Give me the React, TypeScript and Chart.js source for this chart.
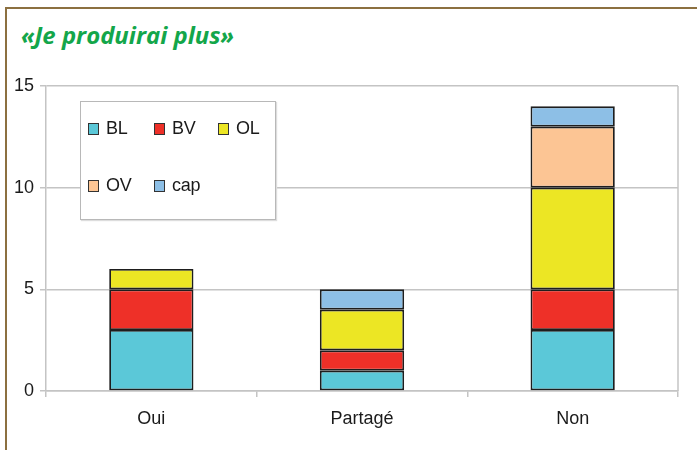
import React, { useEffect, useRef } from "react";
import { Chart, registerables } from "chart.js";

Chart.register(...registerables);

const categories = ["Oui", "Partagé", "Non"];
const seriesNames = ["BL", "BV", "OL", "OV", "cap"];
const blValues = [3, 1, 3];
const bvValues = [2, 1, 2];
const olValues = [1, 2, 5];
const ovValues = [null, null, 3];
const capValues = [null, 1, 1];
const seriesColors = ["#5bc8d8", "#ee3028", "#ece624", "#fcc594", "#8dbfe6"];
const yTicks = [0, 5, 10, 15];
const titleText = "«Je produirai plus»";

const TITLE_FONT = "italic bold 24px 'Open Sans'";
const TITLE_WIDTH = 213;

const rightBorder = {
  id: "rightBorder",
  afterDatasetsDraw(chart: any) {
    const { ctx, chartArea } = chart;
    ctx.save();
    ctx.strokeStyle = "#c4c4c4";
    ctx.lineWidth = 1.5;
    ctx.beginPath();
    ctx.moveTo(chartArea.right, chartArea.top);
    ctx.lineTo(chartArea.right, chartArea.bottom);
    ctx.stroke();
    ctx.restore();
  },
};

export default function App() {
  const ref = useRef<HTMLCanvasElement>(null);
  const titleRef = useRef<HTMLDivElement>(null);
  useEffect(() => {
    const allValues = [blValues, bvValues, olValues, ovValues, capValues];
    const chart = new Chart(ref.current!, {
      type: "bar",
      data: {
        labels: categories,
        datasets: seriesNames.map((name, i) => ({
          label: name,
          data: allValues[i] as any,
          backgroundColor: seriesColors[i],
          borderColor: "#1e1e1e",
          borderWidth: 1.8,
          borderSkipped: false,
          categoryPercentage: 1,
          barPercentage: 0.4,
        })),
      },
      options: {
        animation: false,
        responsive: false,
        maintainAspectRatio: false,
        layout: { padding: { left: 0, right: 19, top: 86, bottom: 0 } },
        plugins: { legend: { display: false }, title: { display: false }, tooltip: { enabled: false } },
        scales: {
          x: {
            stacked: true,
            grid: {
              offset: true,
              drawOnChartArea: false,
              drawTicks: true,
              tickLength: 6,
              color: "#c4c4c4",
              lineWidth: 1.5,
            },
            border: { color: "#c4c4c4", width: 1.5 },
            ticks: {
              color: "#1a1a1a",
              font: { family: "Liberation Sans", size: 18 },
              padding: 11,
            },
            afterFit(scale: any) {
              scale.height = 450 - 391;
            },
          },
          y: {
            stacked: true,
            min: 0,
            max: 15,
            afterBuildTicks(scale: any) {
              scale.ticks = yTicks.map((v) => ({ value: v }));
            },
            grid: {
              color: "#c4c4c4",
              lineWidth: 1.5,
              tickLength: 6,
            },
            border: { color: "#c4c4c4", width: 1.5 },
            ticks: {
              color: "#1a1a1a",
              font: { family: "Liberation Sans", size: 18 },
              padding: 6,
            },
            afterFit(scale: any) {
              scale.width = 46;
            },
          },
        },
      },
      plugins: [rightBorder],
    });

    // condense title to the reference width
    const c = document.createElement("canvas").getContext("2d")!;
    c.font = TITLE_FONT;
    const w = c.measureText(titleText).width;
    if (titleRef.current && w > 0) {
      titleRef.current.style.transform = `scaleX(${TITLE_WIDTH / w})`;
    }
    return () => chart.destroy();
  }, []);

  const legendItems = [
    { name: seriesNames[0], color: seriesColors[0], x: 88, y: 123 },
    { name: seriesNames[1], color: seriesColors[1], x: 154, y: 123 },
    { name: seriesNames[2], color: seriesColors[2], x: 218, y: 123 },
    { name: seriesNames[3], color: seriesColors[3], x: 88, y: 180 },
    { name: seriesNames[4], color: seriesColors[4], x: 154, y: 180 },
  ];

  return (
    <div style={{ position: "fixed", left: 0, top: 0, width: 697, height: 450, background: "#fff", overflow: "hidden" }}>
      <div
        style={{
          position: "absolute",
          left: 5,
          top: 7,
          width: 720,
          height: 500,
          borderLeft: "2px solid #8c7040",
          borderTop: "2px solid #8c7040",
        }}
      />
      <div
        ref={titleRef}
        style={{
          position: "absolute",
          left: 21,
          top: 19,
          color: "#13a64a",
          font: TITLE_FONT,
          lineHeight: "32px",
          whiteSpace: "nowrap",
          transformOrigin: "left center",
        }}
      >
        {titleText}
      </div>
      <canvas ref={ref} width={697} height={450} style={{ position: "absolute", left: 0, top: 0, width: 697, height: 450 }} />
      <div
        style={{
          position: "absolute",
          left: 80,
          top: 101,
          width: 194,
          height: 117,
          border: "1.5px solid #b8b8b8",
          background: "#fff",
          boxShadow: "1px 1px 1px #ddd",
        }}
      />
      {legendItems.map((it) => (
        <React.Fragment key={it.name}>
          <div
            style={{
              position: "absolute",
              left: it.x,
              top: it.y,
              width: 9,
              height: 10,
              background: it.color,
              border: "1.5px solid #333",
            }}
          />
          <div
            style={{
              position: "absolute",
              left: it.x + 18,
              top: it.y - 6,
              fontFamily: "'Liberation Sans', Arial, sans-serif",
              fontSize: 18,
              lineHeight: "22px",
              color: "#1a1a1a",
              letterSpacing: -0.3,
              whiteSpace: "nowrap",
            }}
          >
            {it.name}
          </div>
        </React.Fragment>
      ))}
    </div>
  );
}
